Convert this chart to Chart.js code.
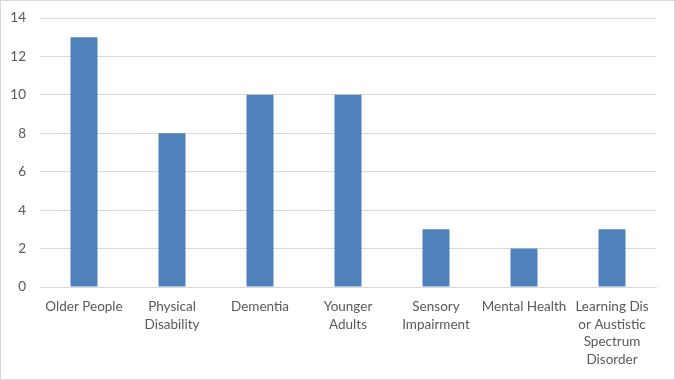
<!DOCTYPE html>
<html>
<head>
<meta charset="utf-8">
<script src="https://cdn.jsdelivr.net/npm/chart.js@4"></script>
<style>
html,body{margin:0;padding:0;background:#fff;}
#wrap{width:675px;height:380px;position:relative;}
</style>
</head>
<body>
<div id="wrap"><canvas id="c" width="675" height="380"></canvas></div>
<script>
const categories = [
  ["Older People"],
  ["Physical", "Disability"],
  ["Dementia"],
  ["Younger", "Adults"],
  ["Sensory", "Impairment"],
  ["Mental Health"],
  ["Learning Dis", "or Austistic", "Spectrum", "Disorder"]
];
const values = [13, 8, 10, 10, 3, 2, 3];
const yTicks = [0, 2, 4, 6, 8, 10, 12, 14];

const borderPlugin = {
  id: 'outerBorder',
  beforeDraw(chart) {
    const ctx = chart.ctx;
    ctx.save();
    ctx.fillStyle = '#ffffff';
    ctx.fillRect(0, 0, chart.width, chart.height);
    ctx.strokeStyle = '#d9d9d9';
    ctx.lineWidth = 1;
    ctx.strokeRect(0.5, 0.5, chart.width - 1, chart.height - 1);
    ctx.restore();
  }
};

new Chart(document.getElementById('c'), {
  type: 'bar',
  data: {
    labels: categories,
    datasets: [{
      data: values,
      backgroundColor: '#4F81BD',
      borderWidth: 0,
      barPercentage: 0.307,
      categoryPercentage: 1.0
    }]
  },
  options: {
    responsive: false,
    animation: false,
    devicePixelRatio: 1,
    layout: { padding: { top: 18, right: 19, left: 0, bottom: 0 } },
    plugins: { legend: { display: false }, tooltip: { enabled: false } },
    scales: {
      x: {
        grid: { display: false, drawTicks: false },
        border: { display: true, color: '#d9d9d9' },
        ticks: {
          color: '#595959',
          font: { family: 'Lato', size: 13.5, lineHeight: 1.3 },
          padding: 11,
          maxRotation: 0,
          autoSkip: false
        },
        afterFit(scale) { scale.height = 93; scale.paddingLeft = 0; scale.paddingRight = 0; }
      },
      y: {
        min: 0,
        max: 14,
        afterBuildTicks(scale) { scale.ticks = yTicks.map(v => ({ value: v })); },
        grid: { color: '#d9d9d9', drawTicks: false },
        border: { display: false },
        ticks: {
          color: '#595959',
          font: { family: 'Lato', size: 13.5 },
          padding: 14
        },
        afterFit(scale) { scale.width = 40; scale.paddingTop = 0; scale.paddingBottom = 0; }
      }
    }
  },
  plugins: [borderPlugin]
});
</script>
</body>
</html>
